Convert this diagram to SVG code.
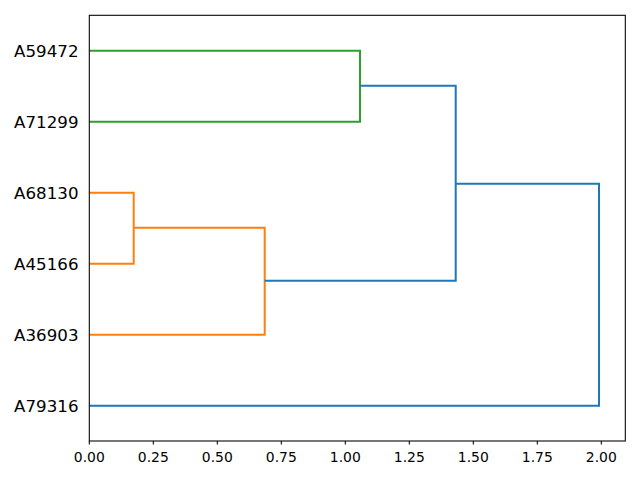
<svg xmlns="http://www.w3.org/2000/svg" width="640" height="480" viewBox="0 0 640 480">
<style>
.ylab{font-family:"DejaVu Sans",sans-serif;font-size:16.67px;fill:#000;text-anchor:end}
.xlab{font-family:"DejaVu Sans",sans-serif;font-size:13.9px;fill:#000;text-anchor:middle}
.g{stroke:#2ca02c;stroke-width:2;fill:none}
.o{stroke:#ff7f0e;stroke-width:2;fill:none}
.b{stroke:#1f77b4;stroke-width:2;fill:none}
.tick{stroke:#000;stroke-width:1.07}
</style>
<rect width="640" height="480" fill="#fff"/>
<g id="connectors">
<polyline class="g" points="89.3,50.7 360,50.7 360,121.7 89.3,121.7"/>
<polyline class="o" points="89.3,192.7 133.7,192.7 133.7,263.7 89.3,263.7"/>
<polyline class="o" points="133.7,227.7 264.7,227.7 264.7,334.7 89.3,334.7"/>
<polyline class="b" points="360,85.7 455.7,85.7 455.7,280.7 264.7,280.7"/>
<polyline class="b" points="455.7,183.7 599,183.7 599,405.7 89.3,405.7"/>
</g>
<g id="axes">
<rect x="89.3" y="15.3" width="536" height="425.7" fill="none" stroke="#000" stroke-width="1.07"/>
<g class="tick">
<line x1="89.3" y1="441" x2="89.3" y2="444.5"/>
<line x1="153.3" y1="441" x2="153.3" y2="444.5"/>
<line x1="217.3" y1="441" x2="217.3" y2="444.5"/>
<line x1="281.3" y1="441" x2="281.3" y2="444.5"/>
<line x1="345.3" y1="441" x2="345.3" y2="444.5"/>
<line x1="409.3" y1="441" x2="409.3" y2="444.5"/>
<line x1="473.3" y1="441" x2="473.3" y2="444.5"/>
<line x1="537.3" y1="441" x2="537.3" y2="444.5"/>
<line x1="601.3" y1="441" x2="601.3" y2="444.5"/>
</g>
<text class="xlab" x="89.3" y="462">0.00</text>
<text class="xlab" x="153.3" y="462">0.25</text>
<text class="xlab" x="217.3" y="462">0.50</text>
<text class="xlab" x="281.3" y="462">0.75</text>
<text class="xlab" x="345.3" y="462">1.00</text>
<text class="xlab" x="409.3" y="462">1.25</text>
<text class="xlab" x="473.3" y="462">1.50</text>
<text class="xlab" x="537.3" y="462">1.75</text>
<text class="xlab" x="601.3" y="462">2.00</text>
</g>
<g id="leaf-A59472"><text class="ylab" x="78.5" y="56.8">A59472</text></g>
<g id="leaf-A71299"><text class="ylab" x="78.5" y="127.8">A71299</text></g>
<g id="leaf-A68130"><text class="ylab" x="78.5" y="198.8">A68130</text></g>
<g id="leaf-A45166"><text class="ylab" x="78.5" y="269.8">A45166</text></g>
<g id="leaf-A36903"><text class="ylab" x="78.5" y="340.8">A36903</text></g>
<g id="leaf-A79316"><text class="ylab" x="78.5" y="411.8">A79316</text></g>
</svg>
